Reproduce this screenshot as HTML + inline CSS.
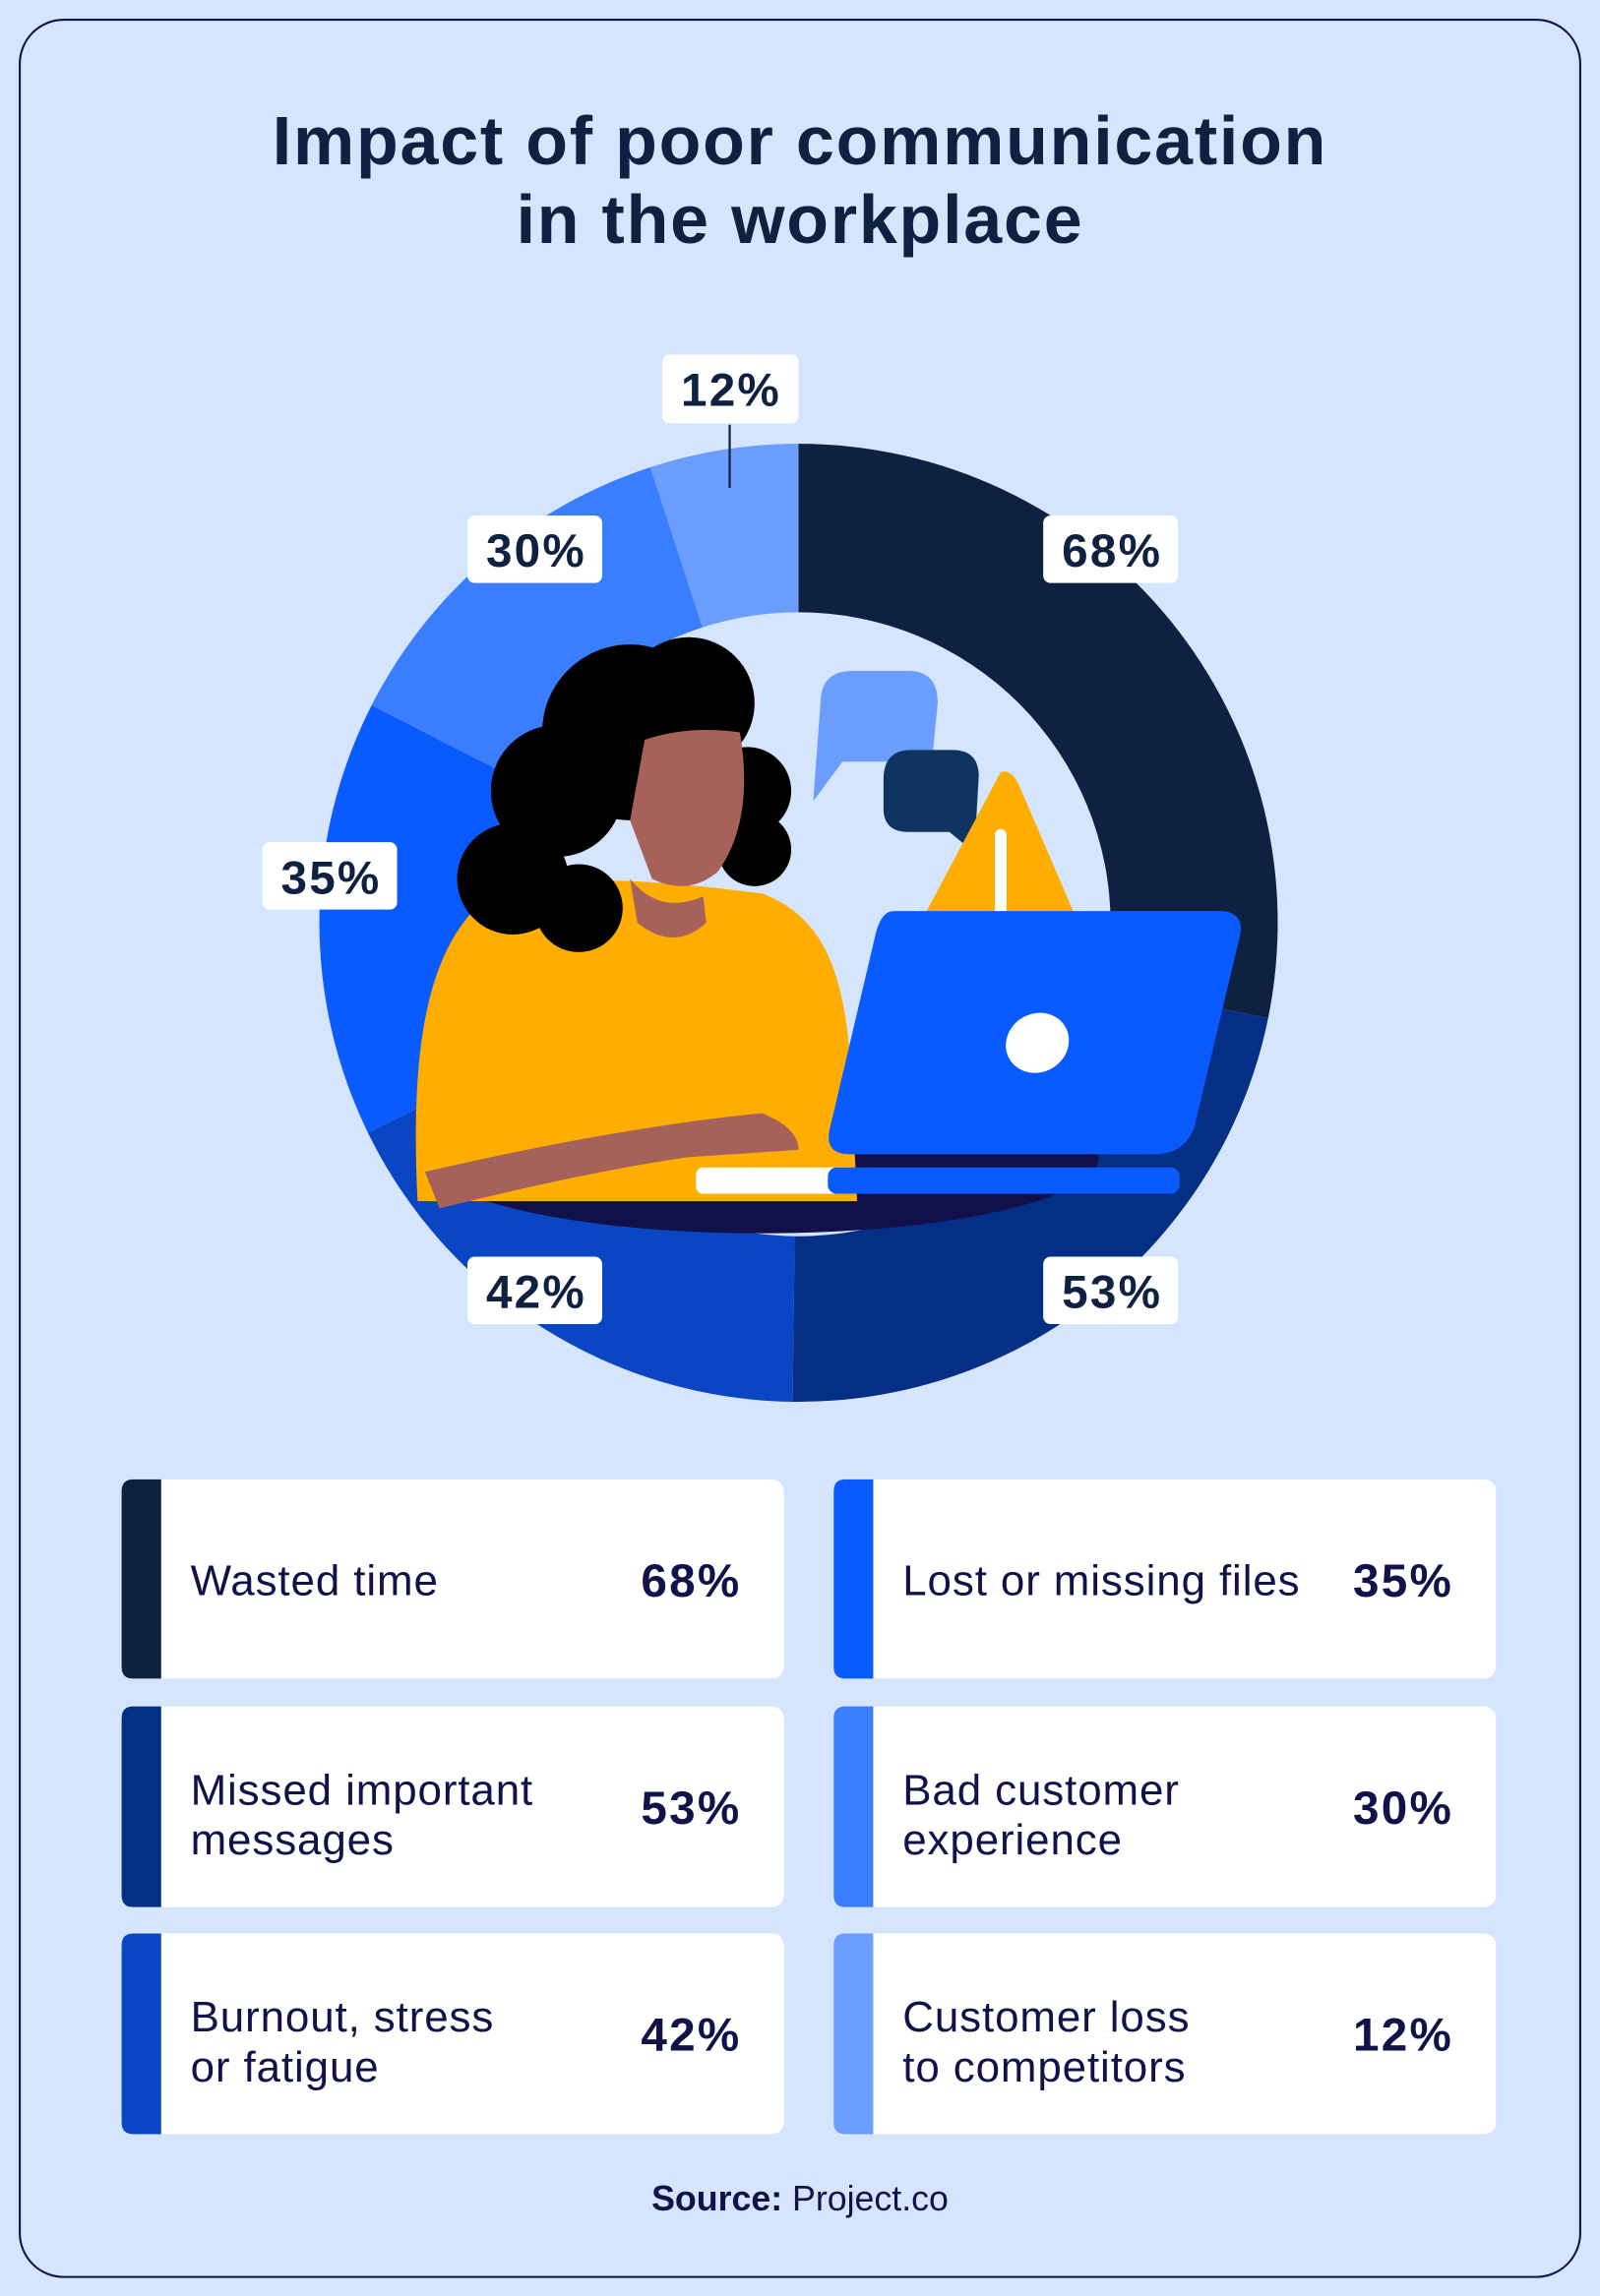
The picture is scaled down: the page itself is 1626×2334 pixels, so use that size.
<!DOCTYPE html>
<html><head><meta charset="utf-8"><style>
html,body{margin:0;padding:0;background:#d4e5fd;}
svg{display:block;}
text{font-family:"Liberation Sans",sans-serif;}
</style></head><body>
<svg width="1626" height="2334" viewBox="0 0 1092 1567.5" preserveAspectRatio="none" xmlns="http://www.w3.org/2000/svg">
<rect x="0" y="0" width="1092" height="1568" fill="#d4e5fd"/>
<rect x="13.5" y="13.5" width="1065" height="1541" rx="30" fill="#d4e5fd" stroke="#12124a" stroke-width="1.4"/>
<text x="546" y="112" text-anchor="middle" font-size="47" font-weight="bold" fill="#0f2140" letter-spacing="1.2">Impact of poor communication</text>
<text x="546" y="166" text-anchor="middle" font-size="47" font-weight="bold" fill="#0f2140" letter-spacing="1.2">in the workplace</text>

<!-- donut -->
<path d="M545 630 L545 303 A327 327 0 0 1 865.5 695.1 Z" fill="#0f2140"/>
<path d="M545 630 L865.5 695.1 A327 327 0 0 1 541 957 Z" fill="#052e85"/>
<path d="M545 630 L541 957 A327 327 0 0 1 251.1 773.3 Z" fill="#0a46c3"/>
<path d="M545 630 L251.1 773.3 A327 327 0 0 1 253.6 481.5 Z" fill="#0a5bff"/>
<path d="M545 630 L253.6 481.5 A327 327 0 0 1 443.9 319 Z" fill="#3b7dff"/>
<path d="M545 630 L443.9 319 A327 327 0 0 1 545 303 Z" fill="#6b9dff"/>
<circle cx="545" cy="631" r="213" fill="#d4e5fd"/>

<!-- illustration -->
<ellipse cx="520" cy="790" rx="230" ry="52" fill="#12104a"/>
<path d="M285 820 C280 720 290 650 330 615 C380 595 440 600 520 610 C560 625 575 660 580 720 L585 820 Z" fill="#ffad00"/>
<g fill="#000">
<circle cx="430" cy="500" r="60"/><circle cx="470" cy="480" r="45"/><circle cx="380" cy="540" r="45"/>
<circle cx="350" cy="600" r="38"/><circle cx="395" cy="620" r="30"/><circle cx="510" cy="540" r="30"/><circle cx="515" cy="580" r="25"/>
</g>
<path d="M440 505 Q470 495 505 500 Q515 560 490 595 Q470 612 445 600 L430 560 Z" fill="#a5615a"/>
<path d="M430 600 Q450 625 480 612 L482 630 Q460 650 435 630 Z" fill="#a5615a"/>
<path d="M290 800 Q420 770 520 760 Q545 770 545 785 L470 790 Q400 800 300 825 Z" fill="#a5615a"/>
<path d="M560 480 Q560 458 582 458 L620 458 Q640 458 640 480 L636 520 L575 520 L555 547 Z" fill="#6b9dff"/>
<path d="M603 532 Q603 512 622 512 L650 512 Q668 512 668 530 L665 582 L648 568 L620 568 Q603 568 603 552 Z" fill="#0f3460"/>
<path d="M683 527 Q690 525 695 535 L738 635 Q742 650 728 651 L632 651 Q618 650 625 636 Z" fill="#ffad00"/>
<rect x="679" y="566" width="8" height="60" rx="4" fill="#fff"/>
<circle cx="682" cy="626" r="5" fill="#fff"/>
<path d="M610 622 L835 622 Q850 624 846 640 L815 770 Q808 788 788 788 L580 788 Q563 788 566 772 L598 636 Q602 622 610 622 Z" fill="#0a5bff"/>
<ellipse cx="708" cy="712" rx="22" ry="20" fill="#fff" transform="rotate(-30 708 712)"/>
<rect x="475" y="797" width="110" height="18" rx="5" fill="#fff"/>
<rect x="565" y="797" width="240" height="18" rx="6" fill="#0a5bff"/>

<!-- labels -->
<line x1="498" y1="290" x2="498" y2="333" stroke="#0f2140" stroke-width="1.5"/>
<g fill="#fff">
<rect x="452" y="242" width="93" height="47" rx="5"/>
<rect x="712" y="352" width="92" height="46" rx="5"/>
<rect x="319" y="352" width="92" height="46" rx="5"/>
<rect x="179" y="575" width="92" height="46" rx="5"/>
<rect x="319" y="858" width="92" height="46" rx="5"/>
<rect x="712" y="858" width="92" height="46" rx="5"/>
</g>
<g font-size="32" font-weight="bold" fill="#0f2140" text-anchor="middle" letter-spacing="1.5">
<text x="499" y="277">12%</text>
<text x="759" y="387">68%</text>
<text x="366" y="387">30%</text>
<text x="226" y="610">35%</text>
<text x="366" y="893">42%</text>
<text x="759" y="893">53%</text>
</g>

<!-- legend cards -->
<g fill="#fff">
<rect x="83" y="1010" width="452" height="136" rx="8"/>
<rect x="83" y="1165" width="452" height="137" rx="8"/>
<rect x="83" y="1320" width="452" height="137" rx="8"/>
<rect x="569" y="1010" width="452" height="136" rx="8"/>
<rect x="569" y="1165" width="452" height="137" rx="8"/>
<rect x="569" y="1320" width="452" height="137" rx="8"/>
</g>
<path d="M91 1010 H110 V1146 H91 Q83 1146 83 1138 V1018 Q83 1010 91 1010Z" fill="#0f2140"/>
<path d="M91 1165 H110 V1302 H91 Q83 1302 83 1294 V1173 Q83 1165 91 1165Z" fill="#052e85"/>
<path d="M91 1320 H110 V1457 H91 Q83 1457 83 1449 V1328 Q83 1320 91 1320Z" fill="#0a46c3"/>
<path d="M577 1010 H596 V1146 H577 Q569 1146 569 1138 V1018 Q569 1010 577 1010Z" fill="#0a5bff"/>
<path d="M577 1165 H596 V1302 H577 Q569 1302 569 1294 V1173 Q569 1165 577 1165Z" fill="#3b7dff"/>
<path d="M577 1320 H596 V1457 H577 Q569 1457 569 1449 V1328 Q569 1320 577 1320Z" fill="#6b9dff"/>
<g font-size="29.5" fill="#12124a" letter-spacing="0.6">
<text x="130" y="1089">Wasted time</text>
<text x="130" y="1232">Missed important</text>
<text x="130" y="1266">messages</text>
<text x="130" y="1387">Burnout, stress</text>
<text x="130" y="1421">or fatigue</text>
<text x="616" y="1089">Lost or missing files</text>
<text x="616" y="1232">Bad customer</text>
<text x="616" y="1266">experience</text>
<text x="616" y="1387">Customer loss</text>
<text x="616" y="1421">to competitors</text>
</g>
<g font-size="32" font-weight="bold" fill="#12124a" text-anchor="end" letter-spacing="1.5">
<text x="506" y="1090">68%</text>
<text x="506" y="1245">53%</text>
<text x="506" y="1400">42%</text>
<text x="992" y="1090">35%</text>
<text x="992" y="1245">30%</text>
<text x="992" y="1400">12%</text>
</g>
<text x="546" y="1509" text-anchor="middle" font-size="24" fill="#12124a"><tspan font-weight="bold">Source:</tspan> Project.co</text>
</svg>
</body></html>
